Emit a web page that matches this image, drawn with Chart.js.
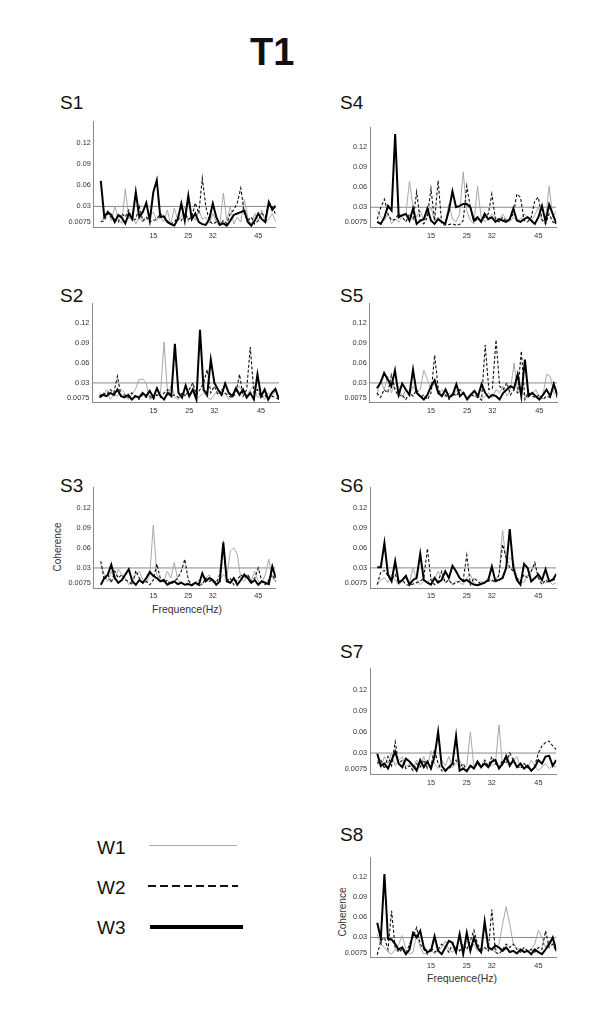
<!DOCTYPE html>
<html><head><meta charset="utf-8">
<script src="https://cdn.jsdelivr.net/npm/chart.js@4.4.0/dist/chart.umd.min.js"></script>
<style>
body{margin:0;width:600px;height:1016px;background:#fff;position:relative;font-family:"Liberation Sans",Arial,sans-serif;overflow:hidden}
canvas{position:absolute}
.t{position:absolute;color:#111;white-space:nowrap;line-height:1}
</style></head><body>
<div class="t" style="left:250px;top:33px;font-size:38px;font-weight:bold">T1</div>
<div class="t" style="left:60px;top:93px;font-size:19px">S1</div>
<div class="t" style="left:340px;top:93px;font-size:19px">S4</div>
<div class="t" style="left:60px;top:286px;font-size:19px">S2</div>
<div class="t" style="left:340px;top:286px;font-size:19px">S5</div>
<div class="t" style="left:60px;top:476px;font-size:19px">S3</div>
<div class="t" style="left:340px;top:476px;font-size:19px">S6</div>
<div class="t" style="left:340px;top:642px;font-size:19px">S7</div>
<div class="t" style="left:340px;top:825px;font-size:19px">S8</div>
<div class="t" style="left:58px;top:547px;font-size:10px;color:#333;transform:translate(-50%,-50%) rotate(-90deg)">Coherence</div>
<div class="t" style="left:187px;top:609px;font-size:10.5px;color:#333;transform:translate(-50%,-50%)">Frequence(Hz)</div>
<div class="t" style="left:343px;top:912px;font-size:10px;color:#333;transform:translate(-50%,-50%) rotate(-90deg)">Coherence</div>
<div class="t" style="left:462px;top:978px;font-size:10.5px;color:#333;transform:translate(-50%,-50%)">Frequence(Hz)</div>
<div class="t" style="left:97px;top:838px;font-size:19px">W1</div>
<div class="t" style="left:97px;top:878px;font-size:19px">W2</div>
<div class="t" style="left:97px;top:918px;font-size:19px">W3</div>
<div style="position:absolute;left:149px;top:845px;width:88px;height:1px;background:#aaa"></div>
<div style="position:absolute;left:148px;top:885px;width:90px;height:2px;background:repeating-linear-gradient(90deg,#111 0 8px,transparent 8px 12px)"></div>
<div style="position:absolute;left:150px;top:925px;width:93px;height:4px;background:#000"></div>
<script>
const freqs = [0,1,2,3,4,5,6,7,8,9,10,11,12,13,14,15,16,17,18,19,20,21,22,23,24,25,26,27,28,29,30,31,32,33,34,35,36,37,38,39,40,41,42,43,44,45,46,47,48,49,50];
const xTicks = [15,25,32,45];
const yTicks = [0.0075,0.03,0.06,0.09,0.12];
const yTickLabels = ["0.0075","0.03","0.06","0.09","0.12"];
const threshold = 0.03;

const s1_w1 = [.01,.015,.025,.01,.03,.012,.006,.055,.012,.02,.005,.015,.008,.012,.018,.022,.01,.015,.008,.025,.005,.028,.01,.015,.03,.008,.02,.01,.025,.012,.015,.006,.02,.008,.004,.049,.01,.03,.005,.015,.008,.04,.015,.003,.02,.01,.025,.008,.012,.02,.008];
const s1_w2 = [.008,.01,.02,.015,.012,.008,.02,.015,.025,.01,.012,.03,.01,.015,.008,.01,.012,.02,.015,.01,.005,.008,.015,.01,.02,.012,.015,.035,.02,.07,.03,.01,.005,.008,.004,.01,.006,.02,.025,.035,.056,.02,.01,.015,.005,.01,.02,.015,.035,.03,.018];
const s1_w3 = [.066,.015,.022,.018,.008,.018,.014,.006,.02,.012,.05,.015,.022,.035,.01,.05,.067,.015,.016,.008,.005,.003,.012,.034,.01,.045,.012,.02,.008,.005,.004,.012,.034,.015,.004,.006,.003,.01,.018,.02,.022,.024,.008,.003,.01,.02,.012,.008,.036,.025,.031];

const s2_w1 = [.015,.01,.02,.005,.012,.01,.02,.015,.005,.012,.02,.035,.036,.03,.005,.008,.012,.015,.092,.01,.027,.008,.005,.015,.012,.02,.03,.005,.01,.015,.008,.005,.012,.02,.01,.015,.005,.01,.02,.025,.015,.01,.02,.026,.008,.012,.005,.015,.01,.018,.008];
const s2_w2 = [.01,.015,.012,.02,.015,.04,.01,.012,.008,.015,.01,.005,.012,.008,.01,.005,.012,.008,.015,.02,.01,.012,.008,.015,.01,.02,.03,.012,.02,.03,.05,.015,.025,.012,.02,.015,.01,.008,.015,.043,.01,.02,.084,.015,.02,.008,.012,.005,.01,.008,.005];
const s2_w3 = [.008,.012,.01,.015,.012,.02,.01,.008,.012,.005,.01,.008,.015,.01,.018,.008,.022,.01,.005,.015,.01,.089,.015,.008,.026,.01,.02,.005,.11,.02,.012,.065,.03,.02,.012,.029,.015,.01,.022,.012,.02,.008,.015,.005,.043,.01,.02,.005,.015,.021,.005];

const s3_w1 = [.035,.02,.01,.025,.012,.028,.02,.015,.005,.01,.02,.025,.012,.008,.02,.094,.02,.012,.01,.025,.015,.038,.012,.008,.005,.01,.005,.008,.012,.005,.015,.02,.008,.01,.012,.02,.015,.055,.06,.05,.015,.01,.02,.012,.025,.01,.008,.02,.043,.015,.01];
const s3_w2 = [.04,.012,.02,.008,.025,.015,.02,.012,.01,.005,.026,.015,.008,.01,.005,.012,.036,.015,.008,.012,.005,.01,.015,.025,.043,.012,.005,.008,.003,.006,.015,.01,.012,.008,.02,.065,.01,.015,.005,.012,.02,.015,.02,.01,.015,.03,.01,.005,.012,.02,.01];
const s3_w3 = [.005,.015,.02,.035,.015,.008,.012,.02,.028,.01,.005,.012,.008,.015,.024,.018,.015,.01,.012,.005,.008,.01,.006,.008,.005,.006,.004,.008,.005,.022,.01,.015,.012,.005,.01,.068,.01,.008,.015,.005,.012,.02,.015,.008,.012,.005,.01,.008,.006,.032,.015];

const s4_w1 = [.025,.015,.01,.02,.005,.012,.008,.015,.02,.069,.03,.015,.025,.01,.02,.03,.01,.015,.008,.005,.035,.012,.008,.02,.083,.025,.01,.005,.062,.015,.008,.012,.02,.015,.01,.02,.012,.008,.015,.01,.012,.02,.015,.01,.018,.03,.008,.012,.062,.015,.025];
const s4_w2 = [.012,.03,.042,.02,.01,.012,.02,.015,.008,.02,.012,.053,.01,.005,.015,.058,.01,.07,.005,.003,.004,.005,.003,.004,.01,.062,.03,.008,.012,.01,.015,.02,.05,.012,.008,.015,.01,.012,.02,.05,.045,.01,.008,.015,.04,.045,.012,.005,.02,.008,.005];
const s4_w3 = [.008,.005,.015,.032,.025,.14,.015,.018,.02,.01,.028,.005,.01,.012,.028,.01,.005,.012,.008,.005,.025,.054,.03,.032,.035,.035,.03,.01,.015,.008,.02,.012,.015,.008,.012,.01,.008,.012,.028,.01,.008,.012,.015,.01,.005,.015,.032,.008,.034,.02,.005];

const s5_w1 = [.01,.035,.02,.04,.015,.03,.025,.008,.02,.012,.025,.015,.02,.049,.035,.02,.03,.012,.02,.008,.015,.01,.018,.02,.012,.008,.015,.01,.012,.005,.01,.015,.008,.02,.015,.025,.01,.02,.06,.015,.02,.01,.015,.012,.02,.008,.012,.043,.04,.015,.01];
const s5_w2 = [.015,.008,.02,.015,.042,.02,.01,.012,.005,.015,.01,.02,.008,.012,.005,.015,.072,.02,.01,.012,.005,.015,.01,.02,.015,.005,.012,.01,.008,.004,.087,.02,.022,.095,.025,.02,.03,.012,.02,.015,.078,.005,.015,.01,.008,.012,.005,.01,.008,.03,.005];
const s5_w3 = [.022,.03,.045,.035,.025,.049,.012,.029,.02,.012,.05,.015,.01,.005,.012,.025,.034,.015,.01,.02,.008,.012,.028,.01,.015,.005,.012,.018,.01,.028,.015,.008,.012,.01,.005,.015,.02,.025,.022,.043,.01,.065,.01,.015,.01,.005,.012,.02,.01,.028,.012];

const s6_w1 = [.005,.012,.015,.008,.02,.012,.005,.01,.015,.008,.03,.012,.005,.01,.008,.015,.012,.025,.015,.008,.012,.006,.01,.008,.005,.015,.02,.008,.005,.01,.008,.015,.01,.012,.02,.086,.04,.045,.04,.015,.01,.008,.02,.025,.035,.015,.012,.008,.01,.005,.008];
const s6_w2 = [.005,.024,.026,.018,.012,.02,.008,.012,.005,.004,.006,.008,.01,.015,.059,.012,.005,.01,.025,.008,.012,.005,.008,.01,.012,.049,.005,.015,.01,.006,.008,.01,.012,.008,.02,.065,.045,.03,.025,.015,.01,.02,.015,.025,.038,.015,.005,.012,.008,.015,.01];
const s6_w3 = [.031,.031,.067,.02,.01,.04,.008,.012,.018,.005,.012,.015,.051,.012,.008,.005,.015,.008,.012,.025,.015,.033,.025,.015,.01,.012,.008,.005,.004,.006,.008,.012,.032,.01,.012,.015,.03,.088,.03,.012,.005,.036,.03,.01,.015,.02,.012,.028,.01,.012,.021];

const s7_w1 = [.02,.008,.025,.015,.03,.012,.02,.025,.01,.015,.008,.02,.012,.025,.01,.033,.015,.008,.02,.012,.025,.01,.015,.02,.008,.012,.06,.01,.015,.008,.02,.01,.012,.015,.07,.012,.03,.015,.02,.025,.01,.015,.008,.02,.012,.005,.01,.015,.008,.012,.01];
const s7_w2 = [.015,.02,.008,.025,.012,.046,.015,.02,.008,.012,.005,.015,.01,.02,.008,.012,.035,.015,.005,.004,.008,.012,.02,.01,.015,.005,.012,.008,.015,.01,.02,.012,.025,.015,.01,.02,.015,.03,.02,.012,.008,.015,.01,.005,.012,.03,.04,.045,.047,.04,.035];
const s7_w3 = [.029,.012,.015,.008,.02,.032,.015,.01,.022,.018,.012,.005,.02,.01,.018,.008,.025,.06,.012,.005,.01,.015,.054,.005,.008,.004,.012,.008,.018,.01,.015,.01,.018,.02,.008,.015,.025,.012,.02,.01,.015,.008,.012,.005,.01,.02,.015,.025,.026,.012,.02];

const s8_w1 = [.035,.02,.015,.008,.005,.012,.02,.033,.012,.005,.008,.035,.015,.005,.008,.012,.005,.01,.015,.025,.012,.008,.015,.01,.012,.025,.015,.02,.01,.008,.015,.01,.012,.008,.02,.05,.076,.05,.02,.015,.012,.01,.008,.012,.02,.041,.03,.015,.025,.02,.008];
const s8_w2 = [.004,.025,.03,.012,.07,.015,.008,.012,.005,.02,.03,.045,.02,.012,.005,.015,.008,.012,.02,.015,.008,.02,.015,.01,.02,.012,.025,.041,.02,.012,.015,.01,.072,.008,.005,.012,.02,.015,.02,.012,.008,.015,.01,.012,.008,.015,.012,.04,.015,.02,.01];
const s8_w3 = [.052,.028,.125,.028,.027,.02,.012,.015,.005,.012,.037,.03,.04,.015,.008,.01,.032,.01,.005,.015,.025,.022,.008,.035,.005,.037,.01,.03,.015,.008,.054,.015,.012,.018,.015,.01,.015,.008,.01,.006,.012,.008,.01,.005,.012,.008,.005,.012,.02,.03,.01];

const panels = [
  {name:'S1', area:{l:93.8,r:275.8,t:117.7,b:227.7}, w1:s1_w1, w2:s1_w2, w3:s1_w3},
  {name:'S2', area:{l:92.3,r:279,t:300.2,b:402.8}, w1:s2_w1, w2:s2_w2, w3:s2_w3},
  {name:'S3', area:{l:93.8,r:275.8,t:484.2,b:588.1}, w1:s3_w1, w2:s3_w2, w3:s3_w3},
  {name:'S4', area:{l:370.1,r:556.3,t:124.4,b:227.2}, w1:s4_w1, w2:s4_w2, w3:s4_w3},
  {name:'S5', area:{l:369.7,r:557.4,t:300.2,b:402.8}, w1:s5_w1, w2:s5_w2, w3:s5_w3},
  {name:'S6', area:{l:370.1,r:556.3,t:484,b:588}, w1:s6_w1, w2:s6_w2, w3:s6_w3},
  {name:'S7', area:{l:370.1,r:556.3,t:664.7,b:774.2}, w1:s7_w1, w2:s7_w2, w3:s7_w3},
  {name:'S8', area:{l:370.1,r:556.3,t:853.5,b:957.5}, w1:s8_w1, w2:s8_w2, w3:s8_w3}
];

const YW = 40, XH = 16, PT = 4, PR = 4;
function pts(arr){ return freqs.map((f,i)=>({x:f,y:arr[i]})); }

panels.forEach(p=>{
  const a = p.area;
  const cv = document.createElement('canvas');
  const L = Math.round(a.l - YW), T = Math.round(a.t - PT);
  const W = Math.round(a.r + PR) - L, H = Math.round(a.b + XH) - T;
  cv.width = W; cv.height = H;
  cv.style.left = L+'px'; cv.style.top = T+'px';
  cv.style.width = W+'px'; cv.style.height = H+'px';
  document.body.appendChild(cv);
  const padTop = a.t - T, padRight = (L+W) - a.r, yw = a.l - L, xh = (T+H) - a.b;
  const tickFont = {size:7.3, family:'"Liberation Sans", Arial, sans-serif'};
  new Chart(cv, {
    type:'line',
    data:{datasets:[
      {label:'W3', data:pts(p.w3), borderColor:'#000', borderWidth:2, pointRadius:0, tension:0, order:0},
      {label:'W2', data:pts(p.w2), borderColor:'#111', borderWidth:1.1, borderDash:[3,2], pointRadius:0, tension:0, order:1},
      {label:'W1', data:pts(p.w1), borderColor:'#a8a8a8', borderWidth:1, pointRadius:0, tension:0, order:2},
      {label:'thr', data:[{x:-2,y:threshold},{x:50,y:threshold}], borderColor:'#888', borderWidth:1, pointRadius:0, order:3}
    ]},
    options:{
      responsive:false, animation:false, events:[], devicePixelRatio:1,
      layout:{padding:{top:padTop, right:padRight, left:0, bottom:0}},
      plugins:{legend:{display:false}, tooltip:{enabled:false}},
      scales:{
        x:{type:'linear', min:-2, max:50,
           grid:{display:false, drawTicks:false}, border:{display:true, color:'#888', width:1},
           afterBuildTicks:s=>{ s.ticks = xTicks.map(v=>({value:v})); },
           ticks:{font:tickFont, color:'#333', padding:4, autoSkip:false, maxRotation:0, callback:v=>String(v)},
           afterFit:s=>{ s.height = xh; }},
        y:{type:'linear', min:0, max:0.15,
           grid:{display:false, drawTicks:false}, border:{display:true, color:'#888', width:1},
           afterBuildTicks:s=>{ s.ticks = yTicks.map(v=>({value:v})); },
           ticks:{font:tickFont, color:'#333', padding:3, autoSkip:false, callback:(v,i)=>yTickLabels[i]},
           afterFit:s=>{ s.width = yw; }}
      }
    }
  });
});
</script>
</body></html>
